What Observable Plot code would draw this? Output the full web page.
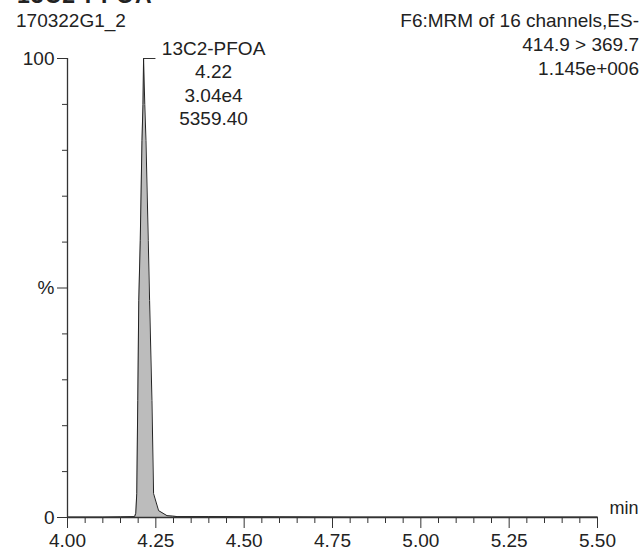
<!DOCTYPE html>
<html>
<head>
<meta charset="utf-8">
<script src="https://cdn.jsdelivr.net/npm/d3@7"></script>
<script src="https://cdn.jsdelivr.net/npm/@observablehq/plot@0.6"></script>
<style>
  html, body { margin: 0; padding: 0; background: #fff; }
  #wrap { position: relative; width: 640px; height: 551px; overflow: hidden; font-family: "Liberation Sans", Arial, sans-serif; color: #222; }
  .hdr { position: absolute; font-size: 19px; line-height: 24px; white-space: pre; z-index: 2; }
  #compound { left: 17px; top: -17px; font-weight: bold; font-size: 23px; letter-spacing: 1px; }
  #sample { left: 16px; top: 9px; }
  #channel { right: 1px; top: 9px; text-align: right; }
  #chart { position: absolute; left: 0; top: 0; }
</style>
</head>
<body>
<div id="wrap">
  <div id="compound" class="hdr"></div>
  <div id="sample" class="hdr"></div>
  <div id="channel" class="hdr"></div>
  <div id="chart"></div>
</div>
<script>
// ---- data ----
const compoundName = "13C2-PFOA";
const sampleName = "170322G1_2";
const channelInfo = ["F6:MRM of 16 channels,ES-", "414.9 > 369.7", "1.145e+006"];
const peakLabel = ["13C2-PFOA", "4.22", "3.04e4", "5359.40"];

const times = [4.00, 4.05, 4.10, 4.15, 4.19, 4.1932, 4.196, 4.1989, 4.2017, 4.2059, 4.2108, 4.2136, 4.2153,
               4.2187, 4.2221, 4.2286, 4.2323, 4.239, 4.2436, 4.2578, 4.2816, 4.297, 4.31, 4.40, 4.60, 4.80, 5.00, 5.20, 5.50];
const intensity = [0.1, 0.1, 0.1, 0.15, 0.2, 0.9, 5.2, 25.5, 47.3, 60.3, 82.1, 90, 100,
                   90, 82.1, 60.3, 47.3, 25.5, 5.2, 1.5, 0.4, 0.3, 0.2, 0.2, 0.15, 0.1, 0.1, 0.1, 0.1];

const xMajorTicks = [4.00, 4.25, 4.50, 4.75, 5.00, 5.25, 5.50];
const xMinorTicks = [4.05, 4.10, 4.15, 4.20, 4.30, 4.35, 4.40, 4.45, 4.55, 4.60, 4.65, 4.70, 4.80, 4.85, 4.90, 4.95,
                     5.05, 5.10, 5.15, 5.20, 5.30, 5.35, 5.40, 5.45];
const yMajorTicks = [0, 50, 100];
const yMajorLabels = ["0", "%", "100"];
const yMinorTicks = [10, 20, 30, 40, 60, 70, 80, 90];
const xUnit = "min";

// ---- build ----
document.getElementById("compound").textContent = compoundName;
document.getElementById("sample").textContent = sampleName;
document.getElementById("channel").textContent = channelInfo.join("\n");

const data = times.map((t, i) => ({t, v: intensity[i]}));
const apex = d3.greatest(data, d => d.v);
const xDomain = d3.extent(xMajorTicks);
const yDomain = d3.extent(yMajorTicks);
const axisColor = "#333";

const chart = Plot.plot({
  width: 640,
  height: 551,
  marginTop: 58,
  marginBottom: 34,
  marginLeft: 67,
  marginRight: 43,
  x: {domain: xDomain},
  y: {domain: yDomain},
  style: {fontFamily: "'Liberation Sans', Arial, sans-serif", fontSize: "19px", color: "#222", background: "transparent", overflow: "visible"},
  marks: [
    Plot.areaY(data, {x: "t", y: "v", fill: "#bcbcbc"}),
    Plot.line(data, {x: "t", y: "v", stroke: "#222", strokeWidth: 1}),
    Plot.ruleX([xDomain[0]], {y1: yDomain[0], y2: yDomain[1], stroke: axisColor, strokeWidth: 1.3}),
    Plot.ruleY([yDomain[0]], {x1: xDomain[0], x2: xDomain[1], stroke: axisColor, strokeWidth: 1.3}),
    Plot.axisY(yMajorTicks, {tickSize: 10, tickPadding: 3, tickFormat: d => yMajorLabels[yMajorTicks.indexOf(d)], label: null, stroke: axisColor, fontSize: 19}),
    Plot.axisY(yMinorTicks, {tickSize: 5, tickFormat: () => "", label: null, stroke: axisColor}),
    Plot.axisX(xMajorTicks, {tickSize: 11, tickPadding: 5, tickFormat: d3.format(".2f"), label: null, stroke: axisColor, fontSize: 19}),
    Plot.axisX(xMinorTicks, {tickSize: 6, tickFormat: () => "", label: null, stroke: axisColor}),
    Plot.text([xUnit], {frameAnchor: "bottom-right", text: d => d, textAnchor: "start", dx: 12, dy: -4, fontSize: 18, fill: "#222"}),
    Plot.ruleY([apex], {y: "v", x1: "t", x2: d => d.t + 0.035, stroke: "#333", strokeWidth: 1}),
    Plot.text([apex], {x: "t", y: "v", text: () => peakLabel.join("\n"), dx: 70, dy: 24, lineHeight: 1.237, textAnchor: "middle", fontSize: 19, fill: "#222"})
  ]
});
document.getElementById("chart").appendChild(chart);
</script>
</body>
</html>
